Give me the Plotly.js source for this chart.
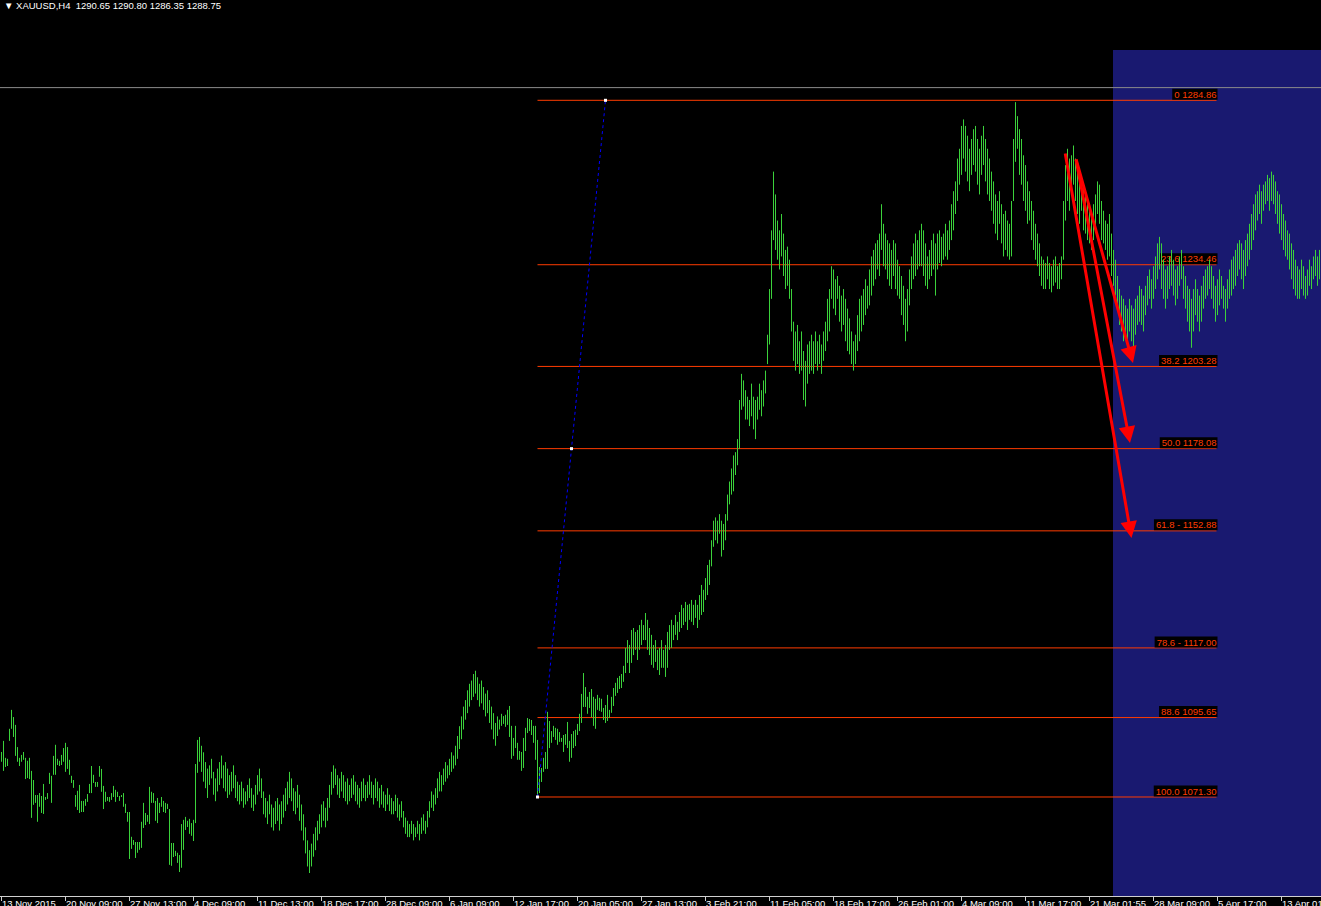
<!DOCTYPE html>
<html><head><meta charset="utf-8">
<script src="https://cdn.plot.ly/plotly-3.0.1.min.js"></script>
<style>html,body{margin:0;padding:0;background:#000;overflow:hidden}#chart{width:1321px;height:906px}</style>
</head><body><div id="chart"></div>
<script>
// ---- data ----
const symbolName = "XAUUSD,H4";
const headerOHLC = ["1290.65", "1290.80", "1286.35", "1288.75"];
const bidPrice = 1288.75;

const barHigh = [
1085.1,1088.5,1083.3,1083.0,1092.2,1098.0,1095.8,1093.4,1086.6,1083.3,
1084.2,1085.1,1083.3,1082.4,1083.3,1079.3,1076.5,1071.9,1071.9,1072.5,
1071.6,1075.3,1071.3,1072.5,1078.7,1077.8,1083.9,1087.3,1083.0,1082.4,
1084.2,1086.3,1087.9,1086.6,1082.7,1077.8,1076.5,1071.9,1073.2,1075.0,
1070.1,1070.1,1070.7,1072.2,1075.3,1080.8,1078.1,1075.9,1075.9,1080.8,
1079.9,1074.7,1072.9,1071.3,1071.3,1072.5,1074.7,1073.5,1072.9,1071.6,
1071.9,1072.5,1069.2,1066.7,1066.7,1059.1,1058.1,1057.5,1057.5,1057.5,
1063.7,1069.5,1066.4,1065.8,1074.4,1072.9,1072.5,1070.1,1071.0,1069.5,
1071.3,1070.1,1069.5,1069.2,1067.6,1057.2,1057.2,1054.8,1054.2,1053.5,
1063.0,1064.3,1065.2,1064.0,1064.6,1063.3,1064.3,1081.4,1088.8,1089.7,
1087,1085,1082,1080,1081,1083,1079,1077,1080,1082,
1084,1081,1082,1080,1078,1079,1081,1078,1076,1075,
1076,1074,1073,1075,1077,1074,1072,1075,1078,1080,
1077,1073,1071,1070,1072,1069,1068,1070,1071,1069,
1070,1072,1074,1076,1079,1077,1074,1073,1075,1072,
1069,1066,1062,1058,1055,1057,1060,1062,1064,1066,
1069,1070,1068,1071,1075,1079,1081,1080,1078,1077,
1079,1078,1076,1077,1075,1077,1078,1076,1075,1074,
1076,1077,1075,1076,1078,1076,1075,1077,1076,1074,
1075,1073,1072,1074,1072,1071,1070,1072,1071,1069,
1070,1067,1065,1064,1063,1064,1063,1062,1064,1063,
1065,1066,1064,1067,1070,1073,1072,1074,1077,1079,
1078,1080,1082,1081,1083,1085,1084,1087,1090,1093,
1096,1099,1101,1104,1106,1107,1109,1110,1108,1106,
1107,1105,1103,1104,1101,1099,1097,1094,1096,1095,
1096.8,1096.1,1096.5,1098.0,1099.2,1093.1,1089.4,1093.1,1087.9,1085.4,
1085.1,1089.4,1092.5,1095.5,1095.2,1094.9,1093.1,1093.1,1088.8,1080.5,
1080.2,1083.3,1085.1,1097.4,1094.6,1091.5,1093.1,1092.5,1092.2,1091.2,
1089.4,1090.3,1090.6,1094.3,1088.5,1090.6,1091.5,1091.9,1093.7,1096.8,
1102.9,1109.3,1105.0,1102.0,1103.5,1104.4,1102.0,1101.4,1102.6,1101.7,
1101.4,1098.6,1099.5,1102.6,1098.0,1102.0,1104.7,1106.3,1107.8,1108.4,
1109.0,1111.5,1117.0,1119.4,1117.9,1122.5,1123.1,1121.9,1122.5,1124.0,
1125.6,1124.0,1127.7,1125.6,1123.1,1121.0,1117.9,1119.4,1116.4,1117.0,
1119.4,1116.4,1117.9,1121.9,1124.0,1125.6,1124.0,1127.1,1125.0,1128.0,
1130.2,1129.2,1131.1,1130.2,1130.5,1131.7,1130.2,1131.7,1130.2,1133.2,
1136.3,1134.8,1138.4,1142.4,1144.0,1150,1156,1157,1156,1158,
1156,1155,1158,1164,1168,1172,1176,1177,1181,1193,
1201,1199,1196,1194,1193,1198,1194,1193,1194,1198,
1196,1199,1202,1213,1227,1245,1263,1256,1248,1245,
1250,1244,1239,1240,1236,1227,1217,1214,1216,1211,
1214,1208,1205,1210,1211,1213,1211,1214,1211,1213,
1210,1214,1217,1224,1227,1234,1233,1230,1231,1228,
1225,1227,1224,1221,1218,1214,1211,1213,1219,1224,
1225,1227,1230,1228,1233,1237,1239,1241,1242,1244,
1253,1247,1244,1242,1241,1239,1242,1241,1236,1234,
1231,1228,1224,1227,1233,1237,1241,1244,1242,1245,
1247,1245,1241,1237,1239,1242,1244,1241,1244,1245,
1243,1244,1247,1245,1248,1253,1257,1260,1267,1270,
1277,1279,1277,1274,1270,1273,1276,1277,1273,1270,
1274,1277,1273,1270,1267,1263,1260,1256,1254,1257,
1253,1250,1251,1248,1247,1254,1273,1284.3,1280,1276,
1273,1268,1265,1260,1257,1254,1251,1247,1244,1241,
1237,1236,1235,1237,1235,1234,1236,1237,1234,1235,
1237,1254,1265,1270,1267,1268,1271,1267,1263,1260,
1262,1259,1256,1254,1251,1250,1253,1256,1260,1259,
1254,1251,1248,1247,1250,1244,1239,1236,1231,1227,
1225,1224,1222,1221,1224,1222,1221,1224,1225,1228,
1227,1225,1228,1231,1233,1230,1234,1237,1241,1243,
1241,1236,1233,1234,1237,1239,1236,1233,1234,1237,
1239,1234,1231,1228,1227,1224,1227,1230,1227,1225,
1228,1231,1233,1234,1236,1234,1231,1228,1230,1233,
1231,1228,1227,1230,1233,1236,1237,1239,1241,1242,
1241,1239,1242,1244,1247,1250,1253,1256,1257,1259,
1257,1259,1260,1262,1261,1263,1262,1260,1257,1256,
1253,1250,1248,1245,1244,1241,1239,1236,1234,1233,
1236,1234,1231,1233,1236,1234,1237,1239,1237,1239
];
const barLow = [
1082.1,1079.3,1080.5,1080.8,1088.5,1092.2,1089.7,1083.9,1082.1,1080.8,
1082.1,1082.7,1076.8,1077.1,1076.8,1064.9,1068.9,1069.5,1063.7,1068.3,
1066.4,1066.1,1070.4,1070.7,1075.3,1069.5,1078.1,1078.1,1081.1,1080.8,
1081.1,1082.1,1079.0,1079.9,1078.1,1075.6,1074.1,1068.3,1067.3,1066.4,
1066.7,1066.7,1068.6,1069.8,1072.5,1072.5,1075.6,1074.4,1074.4,1077.5,
1072.9,1067.6,1069.8,1070.1,1069.8,1070.4,1071.3,1069.8,1071.3,1070.1,
1071.3,1068.3,1066.4,1063.7,1052.3,1055.4,1056.6,1052.6,1054.2,1055.1,
1055.7,1061.8,1062.7,1063.7,1063.0,1069.5,1069.5,1064.0,1063.3,1066.4,
1068.3,1066.7,1066.4,1067.6,1050.5,1050.2,1052.9,1053.2,1051.1,1048.3,
1049.6,1055.1,1061.2,1062.1,1060.0,1059.4,1057.8,1063.3,1078.7,1082.1,
1079,1076,1074,1071,1075,1077,1072,1070,1073,1075,
1077,1074,1073,1071,1072,1073,1074,1071,1070,1069,
1070,1068,1069,1070,1071,1068,1067,1069,1072,1073,
1071,1066,1065,1063,1066,1062,1061,1063,1064,1061,
1063,1065,1067,1069,1071,1070,1067,1066,1068,1064,
1061,1058,1054,1050,1048,1050,1053,1055,1058,1060,
1062,1064,1062,1064,1068,1072,1074,1075,1072,1071,
1073,1071,1070,1069,1070,1071,1072,1070,1069,1068,
1070,1071,1070,1071,1072,1071,1069,1071,1070,1068,
1069,1068,1067,1069,1067,1066,1066,1067,1065,1064,
1065,1062,1060,1059,1059,1060,1058,1059,1060,1058,
1060,1061,1060,1062,1065,1068,1067,1069,1071,1073,
1073,1075,1076,1077,1078,1079,1080,1081,1083,1086,
1089,1092,1095,1097,1099,1101,1102,1103,1101,1099,
1100,1098,1096,1097,1094,1092,1089,1087,1090,1092,
1093.1,1093.7,1092.8,1093.4,1089.7,1083.0,1083.9,1086.3,1082.7,1082.7,
1079.3,1080.2,1085.4,1090.9,1091.5,1090.3,1087.9,1082.7,1071.3,1072.5,
1075.9,1079.0,1079.9,1079.9,1086.3,1087.9,1089.7,1088.8,1087.3,1088.2,
1088.2,1085.1,1087.3,1086.3,1082.1,1083.3,1086.3,1086.9,1090.3,1091.5,
1094.0,1098.9,1098.9,1096.8,1098.6,1095.8,1093.1,1092.2,1098.0,1097.7,
1097.4,1094.9,1094.0,1094.6,1095.5,1097.1,1099.2,1102.3,1103.2,1104.4,
1104.7,1106.6,1109.3,1112.4,1109.3,1112.4,1114.8,1116.4,1113.3,1116.4,
1117.9,1119.4,1119.4,1116.4,1114.8,1111.8,1110.9,1112.7,1110.2,1108.7,
1110.9,1110.9,1108.1,1110.9,1116.4,1117.0,1119.4,1121.0,1119.4,1121.9,
1123.1,1124.0,1125.0,1122.5,1125.6,1125.0,1124.0,1126.2,1123.1,1125.6,
1127.1,1128.0,1131.7,1133.2,1136.3,1142,1148,1150,1149,1152,
1145,1147,1150,1156,1161,1164,1165,1170,1173,1178,
1190,1191,1187,1187,1185,1188,1184,1181,1187,1190,
1188,1191,1195,1204,1210,1224,1242,1239,1236,1233,
1237,1231,1227,1228,1224,1214,1205,1202,1204,1201,
1202,1193,1191,1198,1201,1202,1201,1204,1202,1204,
1201,1205,1208,1211,1214,1224,1221,1219,1224,1217,
1214,1216,1211,1208,1207,1204,1202,1204,1208,1211,
1214,1216,1219,1221,1222,1225,1228,1230,1233,1231,
1239,1234,1233,1230,1228,1227,1231,1227,1225,1224,
1219,1216,1211,1214,1222,1227,1230,1231,1233,1234,
1234,1231,1228,1227,1230,1231,1233,1225,1233,1235,
1234,1236,1237,1236,1239,1242,1245,1250,1254,1259,
1262,1267,1263,1260,1257,1262,1265,1263,1259,1256,
1262,1265,1260,1256,1254,1251,1247,1244,1242,1247,
1241,1237,1239,1237,1236,1237,1254,1266,1270,1262,
1259,1254,1251,1247,1248,1242,1239,1236,1234,1231,
1228,1227,1227,1230,1227,1226,1228,1229,1227,1227,
1230,1236,1248,1254,1251,1256,1259,1254,1250,1247,
1251,1245,1244,1242,1241,1239,1242,1245,1250,1247,
1242,1241,1239,1236,1237,1231,1228,1225,1221,1216,
1214,1211,1213,1210,1214,1211,1208,1213,1216,1217,
1216,1214,1219,1222,1224,1221,1224,1227,1230,1233,
1227,1224,1221,1224,1227,1228,1225,1222,1224,1228,
1230,1224,1221,1217,1214,1209,1214,1219,1217,1214,
1217,1221,1224,1225,1227,1224,1221,1217,1219,1222,
1224,1221,1217,1221,1224,1225,1227,1228,1231,1233,
1230,1227,1231,1234,1236,1239,1242,1245,1248,1250,
1247,1251,1253,1254,1251,1254,1253,1250,1247,1244,
1242,1239,1237,1236,1233,1230,1227,1225,1224,1224,
1227,1225,1224,1225,1228,1227,1230,1231,1228,1230
];

const dateTicks = [0,32,64,96,128,160,192,224,256,288,320,352,384,416,448,480,512,544,576,608,640];
const dateLabels = ["13 Nov 2015","20 Nov 09:00","27 Nov 13:00","4 Dec 09:00","11 Dec 13:00","18 Dec 17:00",
  "28 Dec 09:00","6 Jan 09:00","12 Jan 17:00","20 Jan 05:00","27 Jan 13:00","3 Feb 21:00","11 Feb 05:00",
  "18 Feb 17:00","26 Feb 01:00","4 Mar 09:00","11 Mar 17:00","21 Mar 01:55","28 Mar 09:00","5 Apr 17:00","13 Apr 01:00"];

const fibLabels = ["0 1284.86","23.6 1234.46","38.2 1203.28","50.0 1178.08","61.8 - 1152.88","78.6 - 1117.00","88.6 1095.65","100.0 1071.30"];
const fibPrices = [1284.86,1234.46,1203.28,1178.08,1152.88,1117.00,1095.65,1071.30];
const fibStartBar = 268, fibEndBar = 607.5;
const trendBars = [268, 285, 302];
const trendPrices = [1071.30, 1178.08, 1284.86];

const rectStartBar = 555.75, rectTopPrice = 1300.3;

const arrowTailBar   = [537.1, 537.1, 531.75];
const arrowTailPrice = [1267.2, 1267.2, 1269.0];
const arrowHeadBar   = [565.75, 564.25, 565.0];
const arrowHeadPrice = [1204.3, 1179.8, 1150.7];

// ---- styles ----
const BAR = '#3bd23b', FIB = '#ff3c00', FONT = 'Liberation Sans, Arial, sans-serif';

const bx = [], by = [];
for (let i = 0; i < barHigh.length; i++) { bx.push(i, i, null); by.push(barLow[i], barHigh[i], null); }

const cvs = document.createElement('canvas').getContext('2d');
cvs.font = "9.5px 'Liberation Sans'";

const shapes = [
  {type:'rect', xref:'x', yref:'y', x0:rectStartBar, x1:700, y0:900, y1:rectTopPrice,
   fillcolor:'#191970', line:{width:0}, layer:'below'},
  {type:'line', xref:'x', yref:'y', x0:-5, x1:700, y0:bidPrice, y1:bidPrice,
   line:{color:'#8c8c8c', width:1}, layer:'below'}
];
fibPrices.forEach((p, k) => {
  shapes.push({type:'line', xref:'x', yref:'y', x0:fibStartBar, x1:fibEndBar, y0:p, y1:p,
    line:{color:FIB, width:1}, layer:'below'});
  const w = cvs.measureText(fibLabels[k]).width + 2;
  shapes.push({type:'rect', xref:'x', yref:'y', xsizemode:'pixel', ysizemode:'pixel',
    xanchor:fibEndBar, yanchor:p, x0:-w, x1:1, y0:0.5, y1:11.5,
    fillcolor:'#000000', line:{width:0}, layer:'below'});
});

const traces = [
  {type:'scatter', mode:'text', x:fibPrices.map(() => fibEndBar), y:fibPrices, text:fibLabels,
   textposition:'top left', textfont:{family:FONT, size:9.5, color:FIB}, hoverinfo:'skip', cliponaxis:false, showlegend:false},
  {type:'scatter', mode:'lines', x:bx, y:by, line:{color:BAR, width:1}, hoverinfo:'skip', showlegend:false, connectgaps:false},
  {type:'scatter', mode:'lines', x:[trendBars[0], trendBars[2]], y:[trendPrices[0], trendPrices[2]],
   line:{color:'#0000ff', width:1, dash:'dot'}, hoverinfo:'skip', showlegend:false},
  {type:'scatter', mode:'markers', x:trendBars, y:trendPrices,
   marker:{symbol:'square', size:3, color:'#ffffff', line:{width:0}}, hoverinfo:'skip', showlegend:false}
];

const annotations = [];
arrowHeadBar.forEach((hx, k) => {
  annotations.push({x:hx, y:arrowHeadPrice[k], ax:arrowTailBar[k], ay:arrowTailPrice[k],
    xref:'x', yref:'y', axref:'x', ayref:'y', text:'', showarrow:true,
    arrowhead:2, arrowsize:1.1, arrowwidth:3, arrowcolor:'#ff0000', standoff:0, startstandoff:0});
});
dateTicks.forEach((t, k) => {
  annotations.push({x:t, y:0, xref:'x', yref:'paper', xanchor:'left', yanchor:'top', yshift:-1, xshift:-1,
    text:dateLabels[k], showarrow:false, font:{family:FONT, size:9.5, color:'#ffffff'}, borderpad:0});
});
annotations.push({x:0, y:1, xref:'paper', yref:'paper', xanchor:'left', yanchor:'top', xshift:3, yshift:1,
  text:'\u25BC ' + symbolName + '\u00a0\u00a0' + headerOHLC.join(' '), showarrow:false,
  font:{family:FONT, size:9.5, color:'#ffffff'}, borderpad:0});

const layout = {
  width:1321, height:906, margin:{l:0, r:0, t:0, b:10},
  paper_bgcolor:'#000000', plot_bgcolor:'#000000', showlegend:false,
  xaxis:{range:[-0.75, 659.75], showgrid:false, zeroline:false, showline:true, linecolor:'#d0d0d0', linewidth:1,
         ticks:'outside', ticklen:4, tickcolor:'#d0d0d0', tickvals:dateTicks, showticklabels:false, fixedrange:true},
  yaxis:{range:[1040.95, 1315.605], visible:false, showgrid:false, zeroline:false, fixedrange:true},
  shapes:shapes, annotations:annotations
};
Plotly.newPlot('chart', traces, layout, {displayModeBar:false, staticPlot:true});
</script></body></html>
